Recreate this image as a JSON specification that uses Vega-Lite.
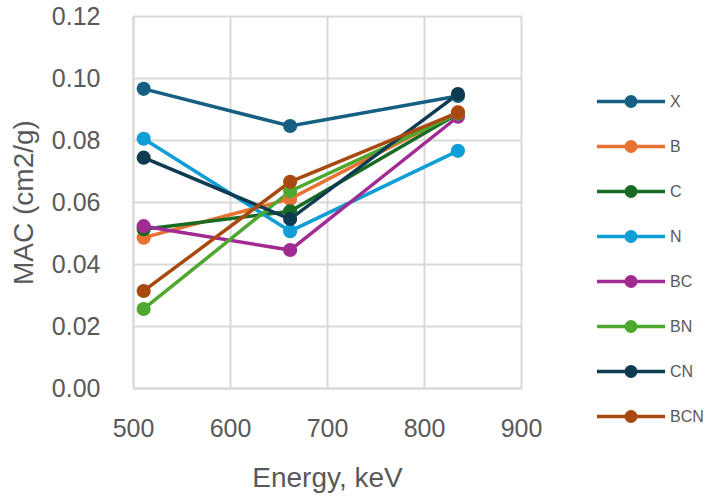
{
  "$schema": "https://vega.github.io/schema/vega-lite/v6.json",
  "width": 388,
  "height": 372,
  "autosize": "none",
  "padding": {"left": 133, "top": 16, "right": 192, "bottom": 111},
  "background": "white",
  "config": {
    "font": "Liberation Sans",
    "view": {"stroke": null},
    "axis": {
      "gridColor": "#d9d9d9",
      "gridWidth": 2,
      "domainColor": "#d9d9d9",
      "domainWidth": 2,
      "ticks": false,
      "labelColor": "#595959",
      "titleColor": "#595959",
      "labelFont": "Liberation Sans",
      "titleFont": "Liberation Sans",
      "labelFontSize": 25,
      "titleFontSize": 28,
      "titleFontWeight": "normal"
    }
  },
  "data": {
    "values": [
      {"series": "X", "energy": 511, "mac": 0.0965},
      {"series": "X", "energy": 662, "mac": 0.0845},
      {"series": "X", "energy": 835, "mac": 0.0942},
      {"series": "B", "energy": 511, "mac": 0.0485},
      {"series": "B", "energy": 662, "mac": 0.0610},
      {"series": "B", "energy": 835, "mac": 0.0890},
      {"series": "C", "energy": 511, "mac": 0.0512},
      {"series": "C", "energy": 662, "mac": 0.0570},
      {"series": "C", "energy": 835, "mac": 0.0885},
      {"series": "N", "energy": 511, "mac": 0.0804},
      {"series": "N", "energy": 662, "mac": 0.0506},
      {"series": "N", "energy": 835, "mac": 0.0765},
      {"series": "BC", "energy": 511, "mac": 0.0522},
      {"series": "BC", "energy": 662, "mac": 0.0445},
      {"series": "BC", "energy": 835, "mac": 0.0875},
      {"series": "BN", "energy": 511, "mac": 0.0255},
      {"series": "BN", "energy": 662, "mac": 0.0635},
      {"series": "BN", "energy": 835, "mac": 0.0885},
      {"series": "CN", "energy": 511, "mac": 0.0743},
      {"series": "CN", "energy": 662, "mac": 0.0545},
      {"series": "CN", "energy": 835, "mac": 0.0948},
      {"series": "BCN", "energy": 511, "mac": 0.0313},
      {"series": "BCN", "energy": 662, "mac": 0.0665},
      {"series": "BCN", "energy": 835, "mac": 0.0888}
    ]
  },
  "mark": {"type": "line", "strokeWidth": 3.5, "point": {"size": 200, "opacity": 1}},
  "encoding": {
    "x": {
      "field": "energy",
      "type": "quantitative",
      "scale": {"domain": [500, 900], "nice": false},
      "axis": {
        "title": "Energy, keV",
        "values": [500, 600, 700, 800, 900],
        "labelFlush": false,
        "labelPadding": 28,
        "titlePadding": 23
      }
    },
    "y": {
      "field": "mac",
      "type": "quantitative",
      "scale": {"domain": [0, 0.12], "nice": false},
      "axis": {
        "title": "MAC (cm2/g)",
        "values": [0, 0.02, 0.04, 0.06, 0.08, 0.1, 0.12],
        "format": ".2f",
        "labelFlush": false,
        "labelPadding": 33,
        "titlePadding": 13
      }
    },
    "color": {
      "field": "series",
      "type": "nominal",
      "scale": {
        "domain": ["X", "B", "C", "N", "BC", "BN", "CN", "BCN"],
        "range": ["#156082", "#E97132", "#196B24", "#0F9ED5", "#A02B93", "#4EA72E", "#0C3B52", "#A8490F"]
      },
      "legend": {
        "title": null,
        "orient": "none",
        "legendX": 462,
        "legendY": 63,
        "symbolType": "M -1 0 L 1 0 M 0.14 0 A 0.14 0.14 0 1 1 -0.14 0 A 0.14 0.14 0 1 1 0.14 0",
        "symbolSize": 4624,
        "symbolStrokeWidth": 3.5,
        "symbolOpacity": 1,
        "clipHeight": 45,
        "labelFontSize": 16,
        "labelColor": "#595959",
        "labelOffset": 3,
        "rowPadding": 0
      }
    }
  }
}
